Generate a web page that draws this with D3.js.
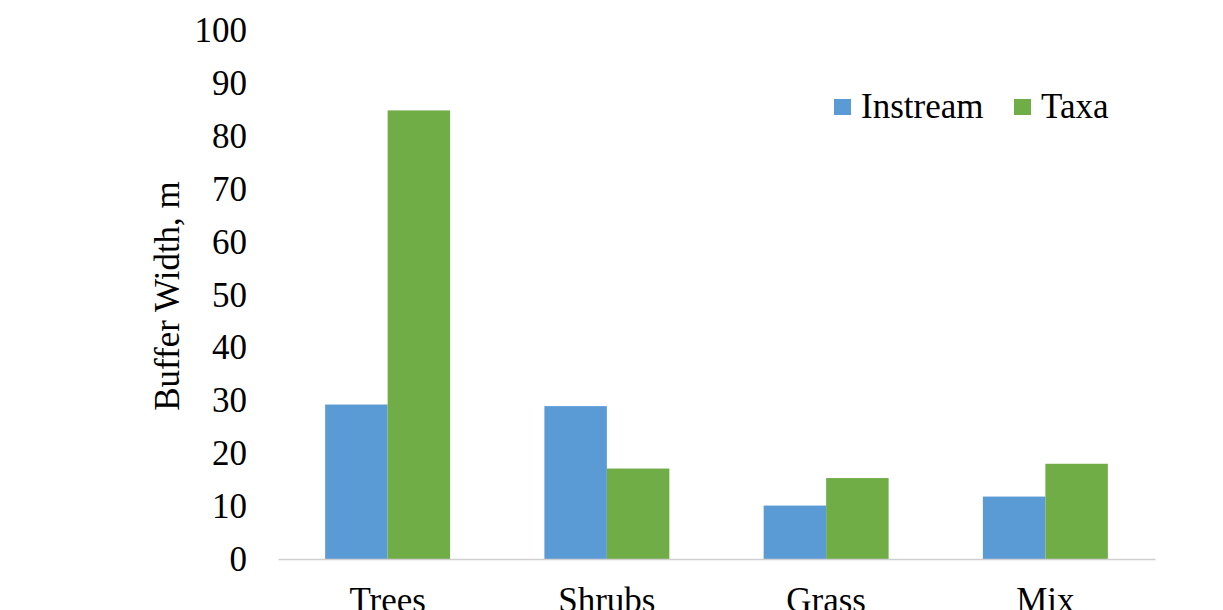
<!DOCTYPE html>
<html>
<head>
<meta charset="utf-8">
<script src="https://cdn.jsdelivr.net/npm/d3@7/dist/d3.min.js"></script>
<style>
  html, body { margin: 0; padding: 0; background: #fff; }
  text { font-family: "Liberation Serif", "Times New Roman", serif; fill: #000; }
</style>
</head>
<body>
<svg id="chart" width="1223" height="610"></svg>
<script>
// Vegetation types along the stream buffer
const categories = ["Trees", "Shrubs", "Grass", "Mix"];
const seriesNames = ["Instream", "Taxa"];
// Buffer width (m) per vegetation type
const instreamValues = [29.2, 28.9, 10.1, 11.8];
const taxaValues = [84.8, 17.1, 15.3, 18.0];
const yTicks = [0, 10, 20, 30, 40, 50, 60, 70, 80, 90, 100];
const seriesColors = ["#5B9BD5", "#70AD47"];

const svg = d3.select("#chart");
const fontSize = 35;

const plot = { left: 278, right: 1155, top: 30, bottom: 559 };

const x0 = d3.scaleBand()
  .domain(categories)
  .range([plot.left, plot.right])
  .paddingInner(0.43)
  .paddingOuter(0.215);

const x1 = d3.scaleBand()
  .domain(seriesNames)
  .range([0, x0.bandwidth()]);

const y = d3.scaleLinear()
  .domain([0, 100])
  .range([plot.bottom, plot.top]);

const color = d3.scaleOrdinal().domain(seriesNames).range(seriesColors);

const rows = categories.map((c, i) => ({
  category: c,
  values: [
    { series: "Instream", value: instreamValues[i] },
    { series: "Taxa", value: taxaValues[i] }
  ]
}));

// Bars
const groups = svg.append("g").selectAll("g")
  .data(rows)
  .join("g")
  .attr("transform", d => `translate(${x0(d.category)},0)`);

groups.selectAll("rect")
  .data(d => d.values)
  .join("rect")
  .attr("x", d => x1(d.series))
  .attr("y", d => y(d.value))
  .attr("width", x1.bandwidth())
  .attr("height", d => y(0) - y(d.value))
  .attr("fill", d => color(d.series));

// Y axis: labels only
const yAxis = d3.axisLeft(y)
  .tickValues(yTicks)
  .tickSize(0)
  .tickPadding(0)
  .tickFormat(d3.format("d"));

const yG = svg.append("g")
  .attr("transform", "translate(247,0)")
  .call(yAxis);
yG.select(".domain").remove();
yG.selectAll("text")
  .style("font-family", '"Liberation Serif", "Times New Roman", serif')
  .style("font-size", fontSize + "px")
  .attr("fill", "#000")
  .attr("dy", "0.33em");

// X axis: grey baseline and category labels
const xAxis = d3.axisBottom(x0).tickSize(0).tickPadding(0);
const xG = svg.append("g")
  .attr("transform", `translate(0,${plot.bottom})`)
  .call(xAxis);
xG.select(".domain")
  .attr("stroke", "#d0d0d0")
  .attr("stroke-width", 1.5);
xG.selectAll("text")
  .style("font-family", '"Liberation Serif", "Times New Roman", serif')
  .style("font-size", fontSize + "px")
  .attr("fill", "#000")
  .attr("dy", null)
  .attr("y", 53);

// Y axis title
svg.append("text")
  .attr("transform", "translate(179,296) rotate(-90)")
  .attr("text-anchor", "middle")
  .style("font-size", fontSize + "px")
  .text("Buffer Width, m");

// Legend
const legendItems = [
  { name: "Instream", x: 834 },
  { name: "Taxa", x: 1014 }
];
const legend = svg.append("g").selectAll("g")
  .data(legendItems)
  .join("g")
  .attr("transform", d => `translate(${d.x},99)`);
legend.append("rect")
  .attr("width", 17)
  .attr("height", 16)
  .attr("fill", d => color(d.name));
legend.append("text")
  .attr("x", 27)
  .attr("y", 19)
  .style("font-size", fontSize + "px")
  .text(d => d.name);
</script>
</body>
</html>
